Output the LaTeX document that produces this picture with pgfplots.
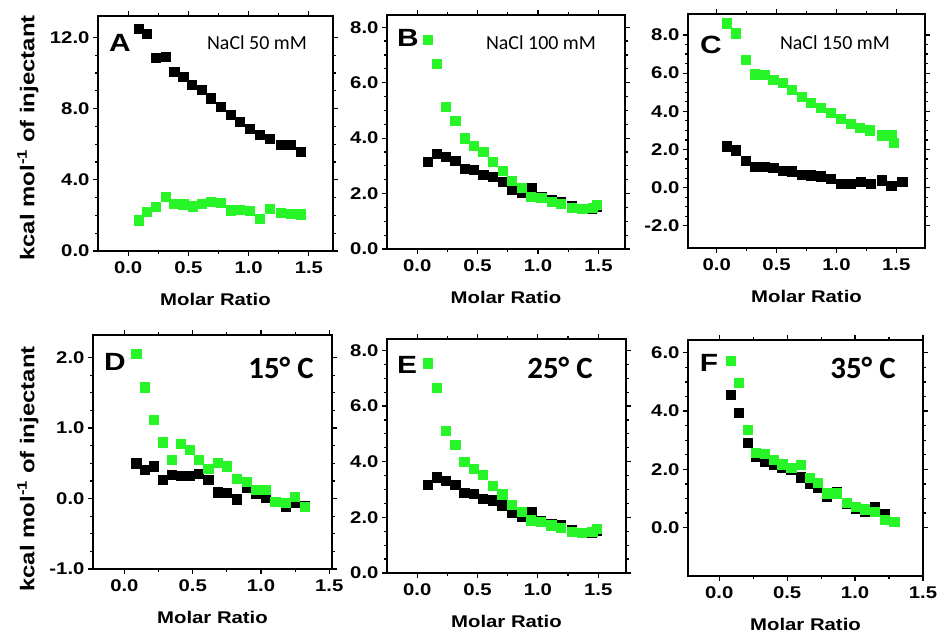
\documentclass[border=0pt]{standalone}
\usepackage{pgfplots}
\pgfplotsset{compat=1.18}
\usepackage{fontspec}
\setmainfont{Liberation Sans}[FakeStretch=1.2]
\newfontfamily\calfont{Carlito}
\definecolor{brightgreen}{RGB}{40,245,40}

\pgfplotsset{
  panel/.style={
    scale only axis,
    axis line style={line width=1.6bp},
    tick align=outside,
    major tick length=5bp, minor tick length=3bp,
    every tick/.style={black, line width=1.2bp},
    minor x tick num=1, minor y tick num=3,
    xtick={0,0.5,1,1.5},
    /pgf/number format/assume math mode=true,
    /pgf/number format/fixed, /pgf/number format/fixed zerofill,
    /pgf/number format/precision=1,
    ticklabel style={font=\bfseries\fontsize{17}{17}\selectfont},
    xticklabel style={yshift=-2bp},
    xlabel={Molar Ratio},
    xlabel style={font=\bfseries\fontsize{17}{17}\selectfont, yshift=-13bp},
    only marks,
    clip=false,
  },
  blk/.style={mark=square*, mark size=4.6bp, black, mark options={draw=none, fill=black}},
  grn/.style={mark=square*, mark size=4.6bp, brightgreen, mark options={draw=none, fill=brightgreen}},
}
\newcommand{\ylab}{\bfseries\fontsize{20}{20}\selectfont kcal mol\textsuperscript{-1} of injectant}
\newcommand{\letterfont}{\bfseries\fontsize{25}{25}\selectfont}

\begin{document}
\begin{tikzpicture}
\useasboundingbox (0bp,0bp) rectangle (942bp,-636bp);

% A: NaCl 50 mM
\begin{axis}[panel, at={(98bp,-251bp)}, anchor=south west, width=235bp, height=235bp,
  xmin=-0.25, xmax=1.7, ymin=0, ymax=13.2, ytick={0,4,8,12}]
\addplot[blk] coordinates {(0.085,12.47) (0.157,12.19) (0.231,10.84) (0.309,10.93) (0.383,10.08)
  (0.457,9.77) (0.529,9.33) (0.612,9.05) (0.686,8.58) (0.769,8.11) (0.851,7.64) (0.928,7.27)
  (1.011,6.85) (1.094,6.52) (1.176,6.33) (1.264,5.95) (1.347,5.95) (1.43,5.58)};
\addplot[grn] coordinates {(0.085,1.73) (0.157,2.20) (0.231,2.48) (0.309,3.04) (0.383,2.67)
  (0.457,2.63) (0.534,2.52) (0.612,2.67) (0.686,2.76) (0.769,2.70) (0.851,2.29) (0.928,2.33)
  (1.011,2.25) (1.094,1.82) (1.176,2.38) (1.264,2.14) (1.347,2.10) (1.43,2.07)};
\end{axis}

% B: NaCl 100 mM
\begin{axis}[panel, at={(387bp,-249bp)}, anchor=south west, width=238bp, height=234bp,
  xmin=-0.25, xmax=1.72, ymin=0, ymax=8.44, ytick={0,2,4,6,8}]
\addplot[blk] coordinates {(0.084,3.16) (0.162,3.44) (0.237,3.32) (0.315,3.18) (0.39,2.89)
  (0.468,2.86) (0.546,2.68) (0.624,2.62) (0.705,2.44) (0.783,2.16) (0.864,2.02) (0.95,2.20)
  (1.026,1.87) (1.11,1.78) (1.19,1.72) (1.277,1.56) (1.36,1.44) (1.444,1.44) (1.486,1.54)};
\addplot[grn] coordinates {(0.084,7.54) (0.162,6.67) (0.237,5.12) (0.315,4.62) (0.39,4.0)
  (0.468,3.74) (0.546,3.52) (0.624,3.14) (0.705,2.83) (0.783,2.46) (0.864,2.20) (0.942,1.90)
  (1.026,1.84) (1.11,1.72) (1.19,1.63) (1.28,1.48) (1.366,1.44) (1.45,1.48) (1.486,1.60)};
\end{axis}

% C: NaCl 150 mM
\begin{axis}[panel, at={(688bp,-248bp)}, anchor=south west, width=237bp, height=234bp,
  xmin=-0.24, xmax=1.74, ymin=-3.16, ymax=9.1, ytick={-2,0,2,4,6,8}]
\addplot[blk] coordinates {(0.083,2.17) (0.161,1.96) (0.242,1.40) (0.319,1.09) (0.397,1.12)
  (0.472,1.03) (0.55,0.88) (0.628,0.86) (0.708,0.70) (0.786,0.65) (0.867,0.60) (0.95,0.47)
  (1.033,0.21) (1.117,0.21) (1.2,0.30) (1.283,0.21) (1.375,0.39) (1.458,0.12) (1.55,0.30)};
\addplot[grn] coordinates {(0.083,8.62) (0.161,8.09) (0.242,6.69) (0.319,5.95) (0.397,5.90)
  (0.472,5.67) (0.55,5.50) (0.628,5.15) (0.708,4.76) (0.786,4.47) (0.867,4.20) (0.95,3.92)
  (1.033,3.63) (1.117,3.36) (1.194,3.15) (1.278,3.01) (1.375,2.75) (1.458,2.75) (1.478,2.35)};
\end{axis}

% D: 15 C
\begin{axis}[panel, at={(93bp,-569bp)}, anchor=south west, width=239bp, height=234bp,
  xmin=-0.23, xmax=1.52, ymin=-1, ymax=2.32, ytick={-1,0,1,2}]
\addplot[blk] coordinates {(0.087,0.50) (0.149,0.41) (0.216,0.46) (0.279,0.27) (0.348,0.34)
  (0.41,0.32) (0.478,0.32) (0.545,0.35) (0.614,0.27) (0.682,0.09) (0.751,0.08) (0.821,-0.01)
  (0.893,0.15) (0.963,0.07) (1.032,0.02) (1.104,-0.04) (1.179,-0.11) (1.249,-0.06) (1.323,-0.11)};
\addplot[grn] coordinates {(0.087,2.05) (0.149,1.58) (0.216,1.12) (0.279,0.80) (0.348,0.55)
  (0.41,0.78) (0.478,0.69) (0.545,0.55) (0.614,0.42) (0.682,0.51) (0.751,0.46) (0.821,0.28)
  (0.893,0.24) (0.963,0.12) (1.032,0.12) (1.104,-0.04) (1.179,-0.06) (1.249,0.03) (1.323,-0.12)};
\end{axis}

% E: 25 C
\begin{axis}[panel, at={(387bp,-573bp)}, anchor=south west, width=239bp, height=234bp,
  xmin=-0.25, xmax=1.73, ymin=0, ymax=8.41, ytick={0,2,4,6,8}]
\addplot[blk] coordinates {(0.084,3.16) (0.162,3.44) (0.237,3.32) (0.315,3.18) (0.39,2.89)
  (0.468,2.86) (0.546,2.68) (0.624,2.62) (0.705,2.44) (0.783,2.16) (0.864,2.02) (0.95,2.20)
  (1.026,1.87) (1.11,1.78) (1.19,1.72) (1.277,1.56) (1.36,1.44) (1.444,1.44) (1.486,1.54)};
\addplot[grn] coordinates {(0.084,7.54) (0.162,6.67) (0.237,5.12) (0.315,4.62) (0.39,4.0)
  (0.468,3.74) (0.546,3.52) (0.624,3.14) (0.705,2.83) (0.783,2.46) (0.864,2.20) (0.942,1.90)
  (1.026,1.84) (1.11,1.72) (1.19,1.63) (1.28,1.48) (1.366,1.44) (1.45,1.48) (1.486,1.60)};
\end{axis}

% F: 35 C
\begin{axis}[panel, at={(688bp,-576bp)}, anchor=south west, width=235bp, height=236bp,
  xmin=-0.23, xmax=1.5, ymin=-1.66, ymax=6.44, ytick={0,2,4,6}]
\addplot[blk] coordinates {(0.085,4.55) (0.146,3.94) (0.207,2.91) (0.268,2.43) (0.334,2.26)
  (0.398,2.15) (0.463,2.06) (0.529,1.98) (0.598,1.73) (0.663,1.52) (0.727,1.38) (0.793,1.06)
  (0.866,1.23) (0.939,0.83) (1.005,0.66) (1.073,0.55) (1.146,0.72) (1.22,0.47) (1.288,0.21)};
\addplot[grn] coordinates {(0.085,5.73) (0.146,4.97) (0.207,3.35) (0.268,2.58) (0.334,2.53)
  (0.398,2.32) (0.463,2.18) (0.529,2.07) (0.598,2.15) (0.663,1.71) (0.727,1.54) (0.793,1.18)
  (0.866,1.18) (0.939,0.86) (1.005,0.72) (1.073,0.63) (1.146,0.55) (1.22,0.26) (1.288,0.21)};
\end{axis}

% y labels
\node[rotate=90] at (28bp,-138bp) {\ylab};
\node[rotate=90] at (28bp,-469bp) {\ylab};

% panel letters and annotations
\node at (120bp,-43bp) {\letterfont A};
\node at (408bp,-38bp) {\letterfont B};
\node at (711bp,-45bp) {\letterfont C};
\node at (115bp,-362bp) {\letterfont D};
\node at (407bp,-365bp) {\letterfont E};
\node at (709bp,-363bp) {\letterfont F};
\node at (257bp,-43bp) {\calfont\fontsize{20}{20}\selectfont NaCl 50 mM};
\node at (541bp,-43bp) {\calfont\fontsize{20}{20}\selectfont NaCl 100 mM};
\node at (835bp,-43bp) {\calfont\fontsize{20}{20}\selectfont NaCl 150 mM};
\node at (281bp,-368bp) {\calfont\bfseries\fontsize{31}{31}\selectfont 15° C};
\node at (560bp,-368bp) {\calfont\bfseries\fontsize{31}{31}\selectfont 25° C};
\node at (863bp,-368bp) {\calfont\bfseries\fontsize{31}{31}\selectfont 35° C};
\end{tikzpicture}
\end{document}
